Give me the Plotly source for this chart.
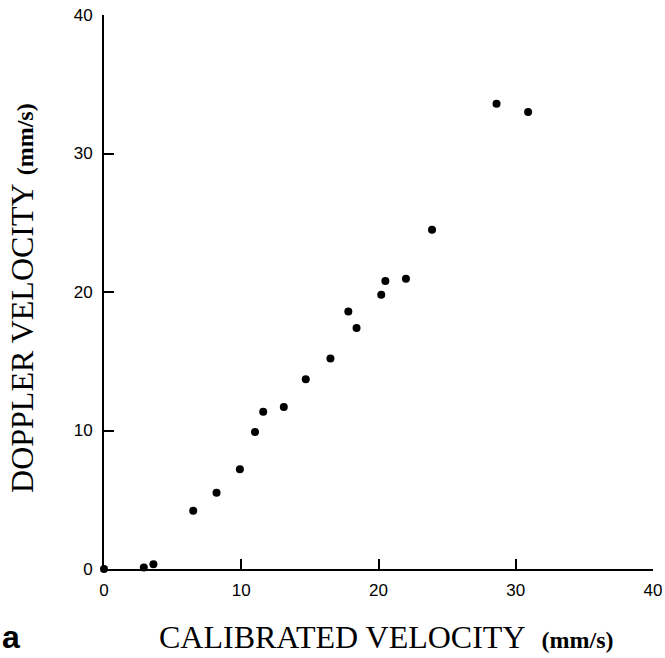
import plotly.graph_objects as go

calibrated = [0.0, 2.9, 3.6, 6.5, 8.2, 9.9, 11.0, 11.6, 13.1, 14.7, 16.5, 17.8, 18.4,
              20.2, 20.5, 22.0, 23.9, 28.6, 30.9]
doppler = [0.0, 0.1, 0.35, 4.2, 5.5, 7.2, 9.9, 11.35, 11.7, 13.7, 15.2, 18.6, 17.4,
           19.8, 20.8, 20.95, 24.5, 33.6, 33.0]
tick_vals = [0, 10, 20, 30, 40]
x_title = "CALIBRATED VELOCITY"
y_title = "DOPPLER VELOCITY"
unit = "(mm/s)"
panel = "a"

fig = go.Figure()
fig.add_trace(go.Scatter(x=calibrated, y=doppler, mode="markers",
                         marker=dict(color="black", size=8), cliponaxis=False,
                         showlegend=False))

axis_common = dict(showline=True, linecolor="black", linewidth=2, showgrid=False,
                   zeroline=False, ticks="inside", ticklen=10, tickwidth=2,
                   tickcolor="black", tickvals=tick_vals, range=[0, 40],
                   automargin=False,
                   tickfont=dict(family="Liberation Sans", size=17, color="black"))
fig.update_xaxes(**axis_common, ticklabelstandoff=5)
fig.update_yaxes(**axis_common, ticklabelstandoff=6)

serif = "Liberation Serif, serif"
title_text_x = f"{x_title}&nbsp;&nbsp;<b><span style='font-size:24px'>{unit}</span></b>"
title_text_y = f"{y_title}&nbsp;<b><span style='font-size:24px'>{unit}</span></b>"
fig.add_annotation(xref="paper", yref="paper", x=0.0965, y=-0.123, yanchor="middle",
                   xanchor="left", showarrow=False, text=title_text_x,
                   font=dict(family=serif, size=32, color="black"))
fig.add_annotation(xref="paper", yref="paper", x=-0.149, y=0.134, textangle=-90,
                   xanchor="center", yanchor="bottom", showarrow=False,
                   text=title_text_y,
                   font=dict(family=serif, size=32, color="black"))
fig.add_annotation(xref="paper", yref="paper", x=-0.19, y=-0.122, xanchor="left",
                   yanchor="middle", showarrow=False, text=f"<b>{panel}</b>",
                   font=dict(family="Liberation Sans", size=32, color="black"))

fig.update_layout(width=665, height=658, margin=dict(l=104, r=12, t=15, b=89),
                  plot_bgcolor="white", paper_bgcolor="white")
fig.write_html("out.html", config={"displayModeBar": False},
               post_script="document.body.style.margin='0';"
                           "document.body.style.overflow='hidden';"
                           "document.documentElement.style.overflow='hidden';")
